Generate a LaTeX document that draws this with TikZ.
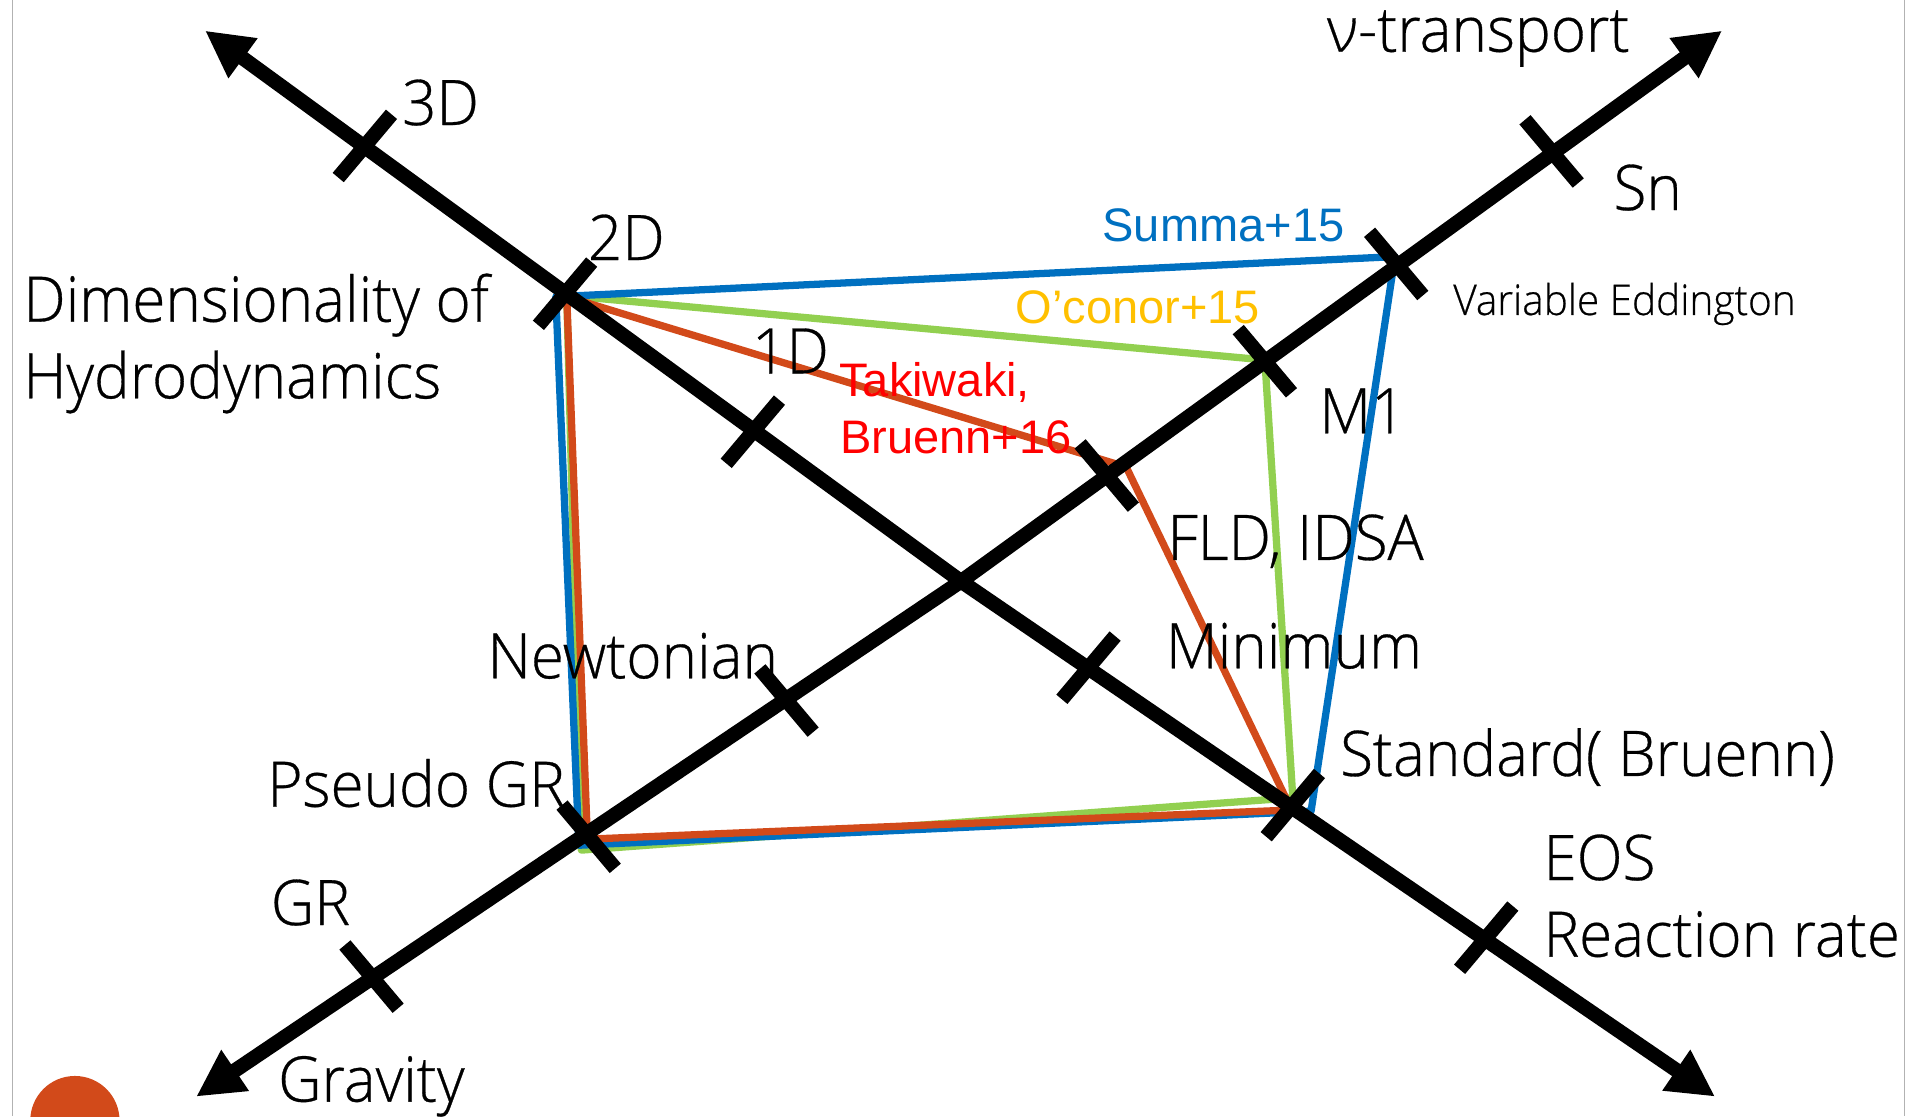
\documentclass[tikz,border=0pt]{standalone}
\usepackage{fontspec}
\setmainfont{Open Sans}[FakeStretch=0.957,FakeBold=0.5,UprightFont=* Light]
\newfontfamily\arialfont{Liberation Sans}
\usetikzlibrary{arrows.meta,calc}

\definecolor{sumblue}{HTML}{0070C0}
\definecolor{ocgreen}{HTML}{92D050}
\definecolor{takorange}{HTML}{D24A1A}
\definecolor{ocyellow}{HTML}{FFC000}
\definecolor{takred}{HTML}{FF0000}

\begin{document}
\begin{tikzpicture}[x=0.1mm,y=-0.1mm,
  axisline/.style={line width=3.4pt,line join=miter,
    {Triangle[length=11pt,width=10.8pt]}-{Triangle[length=11pt,width=10.8pt]}},
  tickmark/.style={line width=3.4pt},
  model/.style={line width=1.7pt,line join=round},
  lbl/.style={anchor=base west,inner sep=0pt,font=\fontsize{14.7}{17}\selectfont},
  smalllbl/.style={anchor=base west,inner sep=0pt,font=\fontsize{9.9}{11}\selectfont},
  reflbl/.style={anchor=base west,inner sep=0pt,font=\arialfont\fontsize{11}{13}\selectfont},
  borderline/.style={gray!60,line width=0.3pt}]

\useasboundingbox (0,0) rectangle (1568,918);

% slide frame and page badge
\draw[borderline] (10.5,0) -- (10.5,918);
\draw[borderline] (1566,0) -- (1566,918);
\fill[takorange] (61.6,921.4) circle[radius=36.7];

% axis end points and centre
\coordinate (O)    at (790.2,478);
\coordinate (dimA) at (168.6,25.2);
\coordinate (dimB) at (1410.2,901.7);
\coordinate (grvA) at (161.3,901.7);
\coordinate (grvB) at (1416,25.2);

% tick positions: hydrodynamics / microphysics axis
\coordinate (t3D)  at (300,120);
\coordinate (t2D)  at (464.6,241.5);
\coordinate (t1D)  at (619,355);
\coordinate (tMin) at (895,549);
\coordinate (tStd) at (1063,662);
\coordinate (tEOS) at (1222,771);
% tick positions: gravity / transport axis
\coordinate (tGR)  at (305.5,803);
\coordinate (tPGR) at (484,688);
\coordinate (tNew) at (646.7,576);
\coordinate (tFLD) at (910,391);
\coordinate (tM1)  at (1040,297);
\coordinate (tVE)  at (1148,217);
\coordinate (tSn)  at (1275.8,124.5);

% model polygons
\coordinate (gA) at (466,243);  \coordinate (gB) at (1040,296);
\coordinate (gC) at (1063,656); \coordinate (gD) at (478,699);
\draw[model,ocgreen] (gA) -- (gB) -- (gC) -- (gD) -- cycle;

\coordinate (bA) at (457,244);  \coordinate (bB) at (1147,211);
\coordinate (bC) at (1078,667); \coordinate (bD) at (476,695);
\draw[model,sumblue] (bA) -- (bB) -- (bC) -- (bD) -- cycle;

\coordinate (oA) at (466,244);  \coordinate (oB) at (926,384);
\coordinate (oC) at (1062,666); \coordinate (oD) at (483,690);
\draw[model,takorange] (oA) -- (oB) -- (oC) -- (oD) -- cycle;

% axes
\draw[axisline] (dimA) -- (O) -- (dimB);
\draw[axisline] (grvA) -- (O) -- (grvB);

% ticks
\foreach \t in {t3D,t2D,t1D,tMin,tStd,tEOS}
  \draw[tickmark] ($(\t)+(21.9,-26)$) -- ($(\t)+(-21.9,26)$);
\foreach \t in {tGR,tPGR,tNew,tFLD,tM1,tVE,tSn}
  \draw[tickmark] ($(\t)+(-21.9,-26)$) -- ($(\t)+(21.9,26)$);

% axis labels
\node[lbl] (l3D)  at (330,102.8)   {3D};
\node[lbl] (l2D)  at (482.7,213.8) {2D};
\node[lbl] (l1D)  at (617.7,307)   {1D};
\node[lbl] (ldim) at (18.4,264.5)  {Dimensionality of};
\node[lbl] (lhyd) at (18.4,327.5)  {Hydrodynamics};
\node[lbl] (lnu)  at (1090.5,42.5) {ν-transport};
\node[lbl] (lSn)  at (1326,172.7)  {Sn};
\node[smalllbl] (lVE) at (1194.3,259) {Variable Eddington};
\node[lbl] (lM1)  at (1084,356.3)  {M1};
\node[lbl] (lFLD) at (959.3,460.4) {FLD, IDSA};
\node[lbl] (lMin) at (957.9,549.5) {Minimum};
\node[lbl] (lStd) at (1101.2,638)  {Standard( Bruenn)};
\node[lbl] (lEOS) at (1268.4,723.6) {EOS};
\node[lbl] (lRR)  at (1268.4,786.6) {Reaction rate};
\node[lbl] (lNew) at (400.2,557.7) {Newtonian};
\node[lbl,anchor=base east] (lPGR) at (465.2,663.3) {Pseudo GR};
\node[lbl] (lGR)  at (222,760.6)   {GR};
\node[lbl] (lGrv) at (228,905.8)   {Gravity};

% model labels
\node[reflbl,text=sumblue]  (lSum) at (905.9,198.7) {Summa+15};
\node[reflbl,text=ocyellow] (lOC)  at (834.3,265.9) {O’conor+15};
\node[reflbl,text=takred]   (lTa1) at (689.4,326.2) {Takiwaki,};
\node[reflbl,text=takred]   (lTa2) at (690,372.7)   {Bruenn+16};

\end{tikzpicture}
\end{document}
